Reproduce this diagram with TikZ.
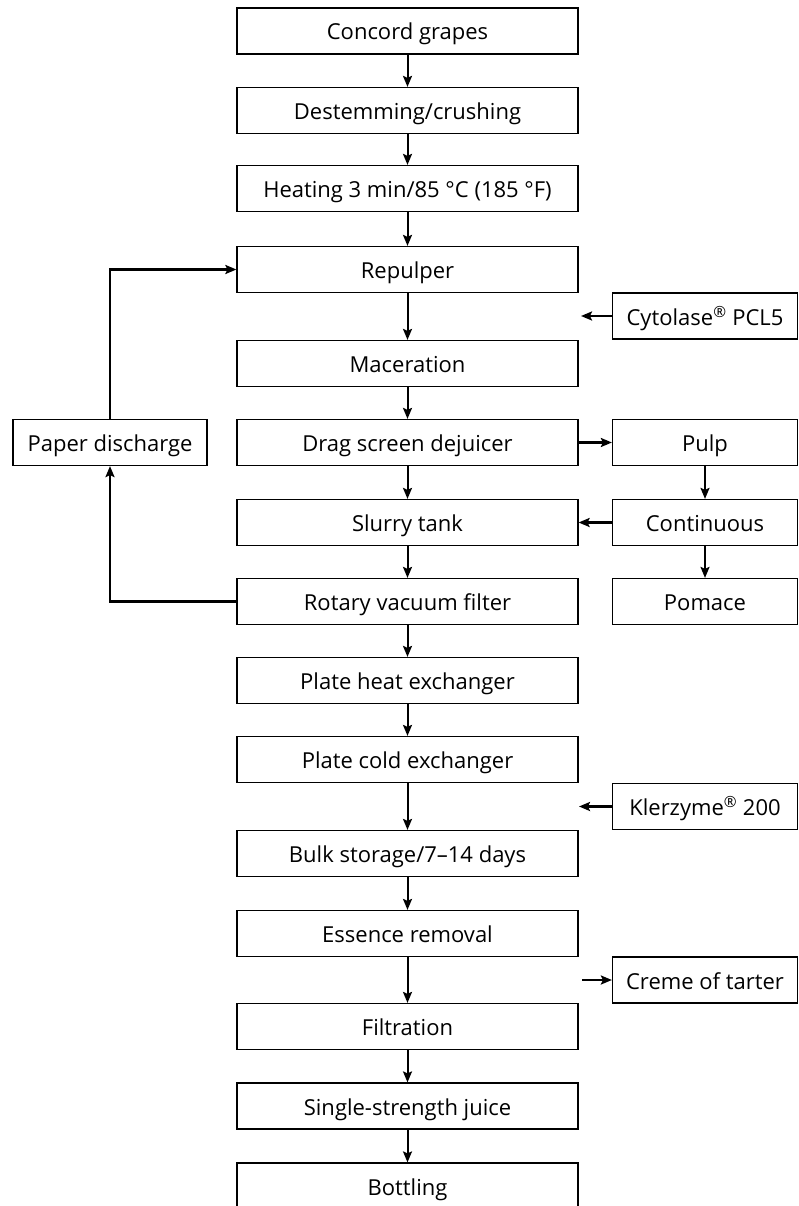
\documentclass[tikz,border=0pt]{standalone}
\usepackage{fontspec}
\setmainfont{Open Sans}
\usetikzlibrary{arrows.meta}

\tikzset{
  stage/.style={draw, line width=1.2pt, minimum width=341pt, minimum height=46pt,
    inner sep=0pt, text height=19pt, text depth=1pt},
  sidebox/.style={stage, minimum width=185pt},
  flow/.style={->, line width=2pt},
  feed/.style={->, line width=2.6pt}
}

\begin{document}
\begin{tikzpicture}[x=1pt, y=-1pt, >={Stealth[length=11pt,width=9pt,inset=2pt]},
  font=\fontsize{22}{26}\selectfont]
\useasboundingbox (0,0) rectangle (799,1206);

% Main process line
\node[stage] (grapes) at (407.5,31) {Concord grapes};
\node[stage] (destem) at (407.5,110.5) {Destemming/crushing};
\node[stage] (heat) at (407.5,188.5) {Heating 3 min/85 °C (185 °F)};
\node[stage] (repulp) at (407.5,269.5) {Repulper};
\node[stage] (macer) at (407.5,363.5) {Maceration};
\node[stage] (drag) at (407.5,442.5) {Drag screen dejuicer};
\node[stage] (slurry) at (407.5,522.5) {Slurry tank};
\node[stage] (rotary) at (407.5,601.5) {Rotary vacuum filter};
\node[stage] (pheat) at (407.5,680.5) {Plate heat exchanger};
\node[stage] (pcold) at (407.5,759.5) {Plate cold exchanger};
\node[stage] (bulk) at (407.5,853.5) {Bulk storage/7–14 days};
\node[stage] (essence) at (407.5,933.5) {Essence removal};
\node[stage] (filt) at (407.5,1026.5) {Filtration};
\node[stage] (single) at (407.5,1106) {Single-strength juice};
\node[stage] (bottle) at (407.5,1186) {Bottling};

% Side streams
\node[sidebox] (cyto) at (705,316) {Cytolase\textsuperscript{®} PCL5};
\node[sidebox] (pulp) at (705,442.5) {Pulp};
\node[sidebox] (contin) at (705,522.5) {Continuous};
\node[sidebox] (pomace) at (705,601.5) {Pomace};
\node[sidebox] (klerz) at (705,806.5) {Klerzyme\textsuperscript{®} 200};
\node[sidebox] (creme) at (705,980) {Creme of tarter};
\node[stage, minimum width=194pt] (paper) at (110,442.5) {Paper discharge};

\coordinate (cytoin) at (581,316);
\coordinate (klerzin) at (579,806.5);
\coordinate (cremeout) at (582,980);

% Arrows down the main line
\foreach \a/\b in {grapes/destem, destem/heat, heat/repulp, repulp/macer,
    macer/drag, drag/slurry, slurry/rotary, rotary/pheat, pheat/pcold,
    pcold/bulk, bulk/essence, essence/filt, filt/single, single/bottle}
  \draw[flow] (\a.south) -- (\b.north);

% Additions and by-products
\draw[feed] (cyto.west) -- (cytoin);
\draw[feed] (klerz.west) -- (klerzin);
\draw[feed] (cremeout) -- (creme.west);
\draw[feed] (drag.east) -- (pulp.west);
\draw[flow] (pulp.south) -- (contin.north);
\draw[feed] (contin.west) -- (slurry.east);
\draw[flow] (contin.south) -- (pomace.north);

% Recycle loop
\draw[feed] (rotary.west) -| (paper.south);
\draw[feed] (paper.north) |- (repulp.west);
\end{tikzpicture}
\end{document}
